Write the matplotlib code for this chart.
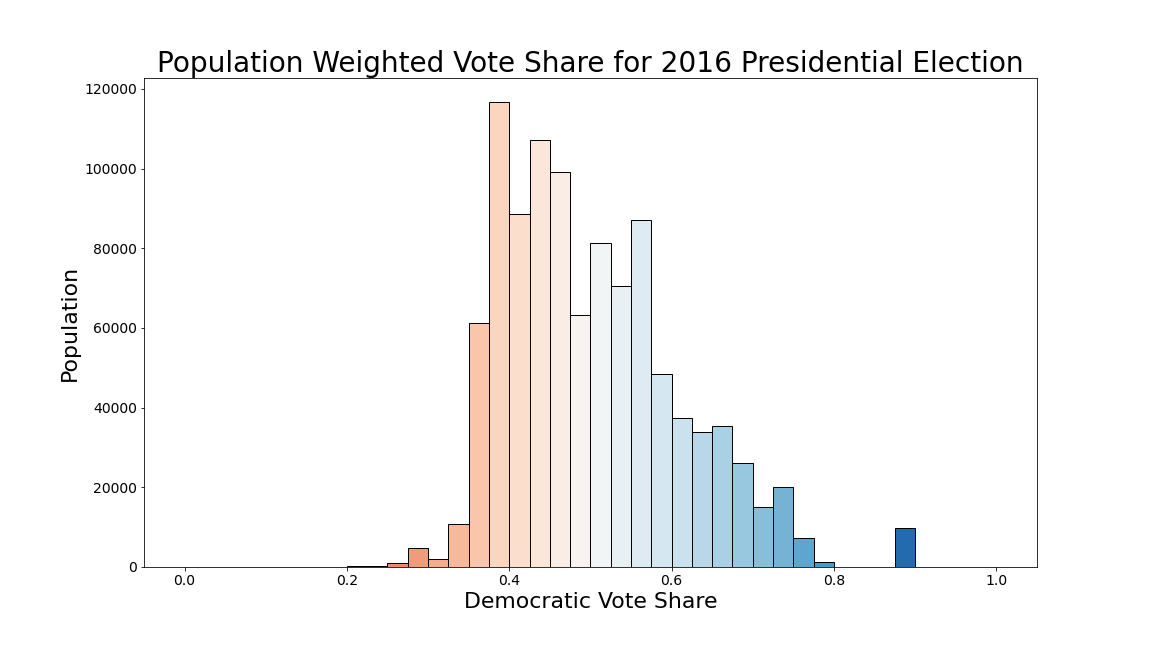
import numpy as np
import matplotlib
matplotlib.use("Agg")
import matplotlib.pyplot as plt

# Bin edges (Democratic vote share) and population weighted counts
bin_edges = np.linspace(0.0, 1.0, 41)
population = [
    0, 0, 0, 0, 0, 0, 0, 0,            # 0.000 - 0.200
    200, 300, 900, 4700,               # 0.200 - 0.300
    1900, 10900, 61300, 116800,        # 0.300 - 0.400
    88600, 107100, 99100, 63300,       # 0.400 - 0.500
    81300, 70500, 87100, 48500,        # 0.500 - 0.600
    37300, 33800, 35500, 26200,        # 0.600 - 0.700
    15000, 20000, 7200, 1200,          # 0.700 - 0.800
    0, 0, 0, 9700,                     # 0.800 - 0.900
    0, 0, 0, 0,                        # 0.900 - 1.000
]

title = "Population Weighted Vote Share for 2016 Presidential Election"
xlabel = "Democratic Vote Share"
ylabel = "Population"

fig = plt.figure(figsize=(16, 9), dpi=72)
ax = fig.add_axes([0.125, 0.125, 0.775, 0.754])

lefts = bin_edges[:-1]
widths = np.diff(bin_edges)
centers = lefts + widths / 2
cmap = plt.get_cmap("RdBu")
colors = [cmap(c) for c in centers]

ax.bar(lefts, population, width=widths, align="edge", color=colors,
       edgecolor="black", linewidth=1.0)

ax.set_title(title, fontsize=28)
ax.set_xlabel(xlabel, fontsize=22)
ax.set_ylabel(ylabel, fontsize=22)
ax.tick_params(labelsize=14)

fig.savefig("out.png", dpi=72)
